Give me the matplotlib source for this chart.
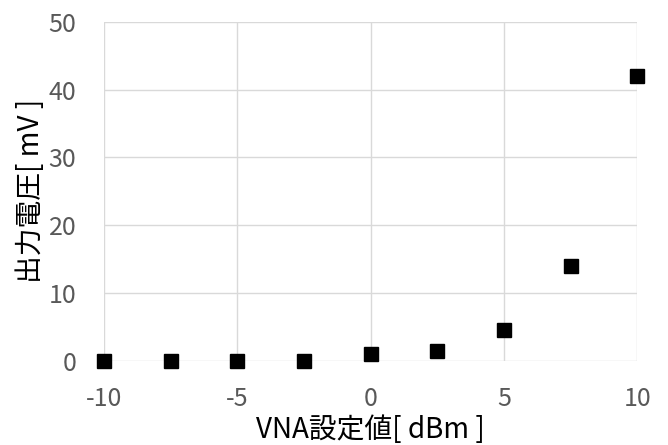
import matplotlib
matplotlib.use("Agg")
import matplotlib.pyplot as plt

plt.rcParams['font.family'] = ['Noto Sans CJK JP', 'DejaVu Sans']
plt.rcParams['axes.unicode_minus'] = False

# VNA設定値 [dBm] と 出力電圧 [mV]
vna_dbm = [-10, -7.5, -5, -2.5, 0, 2.5, 5, 7.5, 10]
out_mv = [0.0, 0.0, 0.0, 0.0, 1.0, 1.5, 4.5, 14.0, 42.0]

x_ticks = [-10, -5, 0, 5, 10]
y_ticks = [0, 10, 20, 30, 40, 50]

fig = plt.figure(figsize=(6.68, 4.45), dpi=100)
ax = fig.add_axes([0.156, 0.189, 0.798, 0.762])

ax.plot(vna_dbm, out_mv, linestyle="none", marker="s", markersize=9.5,
        color="black", clip_on=False, zorder=3)

ax.set_xlim(-10, 10)
ax.set_ylim(0, 50)
ax.set_xticks(x_ticks)
ax.set_yticks(y_ticks)
ax.grid(True, color="#d9d9d9", linewidth=1)
ax.set_axisbelow(True)
for s in ax.spines.values():
    s.set_visible(False)
ax.tick_params(length=0, labelsize=18, labelcolor="#595959")
ax.tick_params(axis="x", pad=18)
ax.tick_params(axis="y", pad=20)

ax.set_xlabel("VNA設定値[ dBm ]", fontsize=20, labelpad=2)
ax.set_ylabel("出力電圧[ mV ]", fontsize=20, labelpad=2)

fig.savefig("out.png", dpi=100)
